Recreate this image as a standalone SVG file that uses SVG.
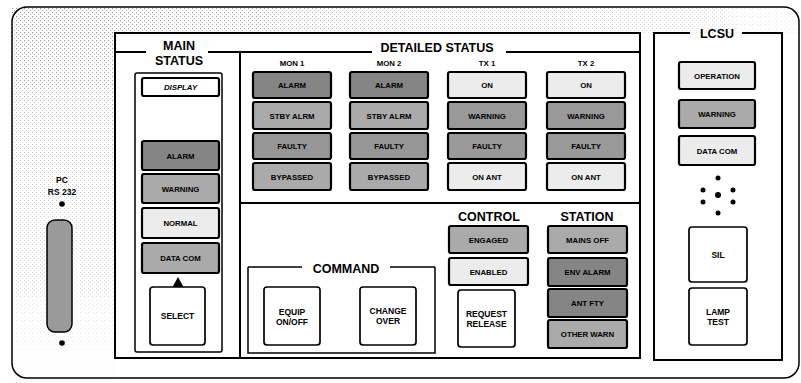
<svg xmlns="http://www.w3.org/2000/svg" width="801" height="383" viewBox="0 0 801 383">
  <defs>
    <!-- halftone stipple used on the panel background -->
    <pattern id="stipple" width="4" height="4" patternUnits="userSpaceOnUse">
      <rect x="0" y="0" width="1" height="1" fill="#000"/>
      <rect x="2" y="2" width="1" height="1" fill="#000" opacity="0.7"/>
    </pattern>
    <linearGradient id="fadeDown" x1="0" y1="0" x2="0" y2="1">
      <stop offset="0" stop-color="#fff" stop-opacity="0.45"/>
      <stop offset="0.4" stop-color="#fff" stop-opacity="0.25"/>
      <stop offset="1" stop-color="#fff" stop-opacity="0.04"/>
    </linearGradient>
    <linearGradient id="fadeRight" x1="0" y1="0" x2="1" y2="0">
      <stop offset="0" stop-color="#fff" stop-opacity="0.4"/>
      <stop offset="0.7" stop-color="#fff" stop-opacity="0.22"/>
      <stop offset="1" stop-color="#fff" stop-opacity="0.06"/>
    </linearGradient>
    <mask id="leftMask"><rect x="12" y="7" width="103" height="371" fill="url(#fadeDown)"/></mask>
    <mask id="topMask"><rect x="115" y="7" width="685" height="26" fill="url(#fadeRight)"/></mask>
    <style>
      .frame { fill: none; stroke: #000; stroke-width: 2; }
      .thin { fill: none; stroke: #000; stroke-width: 1.5; }
      .lamp { stroke: #000; stroke-width: 2.2; }
      .dark { fill: #858585; }
      .mid { fill: #aaaaaa; }
      .light { fill: #ececec; }
      .white { fill: #ffffff; }
      .btn { fill: #fff; stroke: #000; stroke-width: 1.7; }
      .lt { font-family: "Liberation Sans", Arial, sans-serif; font-weight: bold; font-size: 7.8px; text-anchor: middle; fill: #000; }
      .hd { font-family: "Liberation Sans", Arial, sans-serif; font-weight: bold; font-size: 12.5px; text-anchor: middle; fill: #000; }
      .sub { font-family: "Liberation Sans", Arial, sans-serif; font-weight: bold; font-size: 7.8px; text-anchor: middle; fill: #000; }
      .bt { font-family: "Liberation Sans", Arial, sans-serif; font-weight: bold; font-size: 8.5px; text-anchor: middle; fill: #000; }
    </style>
  </defs>

  <rect x="0" y="0" width="801" height="383" fill="#fff"/>

  <!-- outer cabinet panel -->
  <g id="panel">
    <rect x="12" y="7" width="787" height="371" rx="15" fill="#fff"/>
    <rect x="12" y="7" width="103" height="371" fill="url(#stipple)" mask="url(#leftMask)"/>
    <rect x="115" y="7" width="685" height="26" fill="url(#stipple)" mask="url(#topMask)"/>
    <rect x="12" y="7" width="787" height="371" rx="15" fill="none" stroke="#000" stroke-width="1.5"/>
  </g>

  <!-- PC serial port -->
  <g id="pc-port">
    <text class="bt" x="62" y="183" font-size="8">PC</text>
    <text class="bt" x="62" y="195" font-size="8">RS 232</text>
    <circle cx="62" cy="204" r="2.8" fill="#000"/>
    <rect x="47" y="220" width="25" height="112" rx="8" fill="#9a9a9a" stroke="#000" stroke-width="1.5"/>
    <circle cx="62" cy="343" r="2.8" fill="#000"/>
  </g>

  <!-- main frame: main status + detailed status -->
  <g id="main-frame">
    <rect class="frame" x="115" y="33" width="525" height="325"/>
    <line class="frame" x1="115" y1="52" x2="146" y2="52"/>
    <line class="frame" x1="208" y1="52" x2="372" y2="52"/>
    <line class="frame" x1="506" y1="52" x2="640" y2="52"/>
    <line class="frame" x1="240" y1="52" x2="240" y2="358"/>
    <line class="frame" x1="240" y1="203" x2="640" y2="203"/>
    <text class="hd" x="179" y="50">MAIN</text>
    <text class="hd" x="179" y="65">STATUS</text>
    <text class="hd" x="437" y="52" font-size="13.5">DETAILED STATUS</text>
  </g>

  <!-- main status column -->
  <g id="main-status">
    <rect class="thin" x="135" y="73" width="87" height="279" rx="2"/>
    <rect class="lamp white" x="142" y="78" width="77" height="18" rx="2"/>
    <text class="lt" x="180.5" y="90" font-style="italic">DISPLAY</text>
    <rect class="lamp dark" x="142" y="141" width="77" height="29" rx="2"/>
    <text class="lt" x="180.5" y="158.5">ALARM</text>
    <rect class="lamp mid" x="142" y="174" width="77" height="29" rx="2"/>
    <text class="lt" x="180.5" y="191.5">WARNING</text>
    <rect class="lamp light" x="142" y="208" width="77" height="30" rx="2"/>
    <text class="lt" x="180.5" y="226">NORMAL</text>
    <rect class="lamp mid" x="142" y="243" width="77" height="30" rx="2"/>
    <text class="lt" x="180.5" y="261">DATA COM</text>
    <polygon points="178,277 172.5,287 183.5,287" fill="#000"/>
    <rect class="btn" x="150" y="287" width="55" height="58" rx="3"/>
    <text class="bt" x="177.5" y="319" font-size="9">SELECT</text>
  </g>

  <!-- MON 1 -->
  <g id="mon1">
    <text class="sub" x="292" y="66">MON 1</text>
    <rect class="lamp dark" x="253" y="72" width="78" height="26" rx="2"/>
    <text class="lt" x="292" y="88">ALARM</text>
    <rect class="lamp mid" x="253" y="102" width="78" height="27" rx="2"/>
    <text class="lt" x="292" y="118.5">STBY ALRM</text>
    <rect class="lamp dark" x="253" y="133" width="78" height="26" rx="2" style="fill:#969696"/>
    <text class="lt" x="292" y="149">FAULTY</text>
    <rect class="lamp mid" x="253" y="163" width="78" height="27" rx="2"/>
    <text class="lt" x="292" y="179.5">BYPASSED</text>
  </g>

  <!-- MON 2 -->
  <g id="mon2">
    <text class="sub" x="389" y="66">MON 2</text>
    <rect class="lamp dark" x="350" y="72" width="78" height="26" rx="2"/>
    <text class="lt" x="389" y="88">ALARM</text>
    <rect class="lamp mid" x="350" y="102" width="78" height="27" rx="2"/>
    <text class="lt" x="389" y="118.5">STBY ALRM</text>
    <rect class="lamp dark" x="350" y="133" width="78" height="26" rx="2" style="fill:#969696"/>
    <text class="lt" x="389" y="149">FAULTY</text>
    <rect class="lamp mid" x="350" y="163" width="78" height="27" rx="2"/>
    <text class="lt" x="389" y="179.5">BYPASSED</text>
  </g>

  <!-- TX 1 -->
  <g id="tx1">
    <text class="sub" x="487" y="66">TX 1</text>
    <rect class="lamp light" x="448" y="72" width="78" height="26" rx="2"/>
    <text class="lt" x="487" y="88">ON</text>
    <rect class="lamp dark" x="448" y="102" width="78" height="27" rx="2" style="fill:#999"/>
    <text class="lt" x="487" y="118.5">WARNING</text>
    <rect class="lamp dark" x="448" y="133" width="78" height="26" rx="2" style="fill:#999"/>
    <text class="lt" x="487" y="149">FAULTY</text>
    <rect class="lamp light" x="448" y="163" width="78" height="27" rx="2"/>
    <text class="lt" x="487" y="179.5">ON ANT</text>
  </g>

  <!-- TX 2 -->
  <g id="tx2">
    <text class="sub" x="586" y="66">TX 2</text>
    <rect class="lamp light" x="547" y="72" width="78" height="26" rx="2"/>
    <text class="lt" x="586" y="88">ON</text>
    <rect class="lamp dark" x="547" y="102" width="78" height="27" rx="2" style="fill:#999"/>
    <text class="lt" x="586" y="118.5">WARNING</text>
    <rect class="lamp dark" x="547" y="133" width="78" height="26" rx="2" style="fill:#999"/>
    <text class="lt" x="586" y="149">FAULTY</text>
    <rect class="lamp light" x="547" y="163" width="78" height="27" rx="2"/>
    <text class="lt" x="586" y="179.5">ON ANT</text>
  </g>

  <!-- command group -->
  <g id="command">
    <line class="thin" x1="248" y1="267" x2="302" y2="267"/>
    <line class="thin" x1="390" y1="267" x2="435" y2="267"/>
    <polyline class="thin" points="248,267 248,353 435,353 435,267"/>
    <text class="hd" x="346" y="273">COMMAND</text>
    <rect class="btn" x="264" y="287" width="56" height="58" rx="3"/>
    <text class="bt" x="292" y="315">EQUIP</text>
    <text class="bt" x="292" y="325">ON/OFF</text>
    <rect class="btn" x="360" y="287" width="56" height="58" rx="3"/>
    <text class="bt" x="388" y="314">CHANGE</text>
    <text class="bt" x="388" y="324">OVER</text>
  </g>

  <!-- control -->
  <g id="control">
    <text class="hd" x="489" y="221">CONTROL</text>
    <rect class="lamp mid" x="449" y="226" width="79" height="27" rx="2"/>
    <text class="lt" x="488.5" y="242.5">ENGAGED</text>
    <rect class="lamp light" x="449" y="258" width="79" height="27" rx="2"/>
    <text class="lt" x="488.5" y="274.5">ENABLED</text>
    <rect class="btn" x="458" y="290" width="57" height="57" rx="3"/>
    <text class="bt" x="486.5" y="317">REQUEST</text>
    <text class="bt" x="486.5" y="327">RELEASE</text>
  </g>

  <!-- station -->
  <g id="station">
    <text class="hd" x="587" y="221">STATION</text>
    <rect class="lamp mid" x="548" y="226" width="79" height="27" rx="2"/>
    <text class="lt" x="587.5" y="242.5">MAINS OFF</text>
    <rect class="lamp dark" x="548" y="258" width="79" height="28" rx="2"/>
    <text class="lt" x="587.5" y="275">ENV ALARM</text>
    <rect class="lamp dark" x="548" y="289" width="79" height="28" rx="2"/>
    <text class="lt" x="587.5" y="306">ANT FTY</text>
    <rect class="lamp mid" x="548" y="320" width="79" height="28" rx="2"/>
    <text class="lt" x="587.5" y="337">OTHER WARN</text>
  </g>

  <!-- LCSU -->
  <g id="lcsu">
    <polyline class="frame" points="690,33 654,33 654,360 782,360 782,33 742,33"/>
    <text class="hd" x="717" y="38">LCSU</text>
    <rect class="lamp light" x="679" y="62" width="76" height="27" rx="2"/>
    <text class="lt" x="717" y="78.5">OPERATION</text>
    <rect class="lamp mid" x="679" y="100" width="76" height="28" rx="2"/>
    <text class="lt" x="717" y="117">WARNING</text>
    <rect class="lamp light" x="679" y="136" width="76" height="29" rx="2"/>
    <text class="lt" x="717" y="153.5">DATA COM</text>
    <g fill="#000">
      <circle cx="718" cy="178" r="2.5"/>
      <circle cx="703" cy="190" r="2.5"/>
      <circle cx="733" cy="190" r="2.5"/>
      <circle cx="718" cy="195" r="3"/>
      <circle cx="703" cy="202" r="2.5"/>
      <circle cx="733" cy="202" r="2.5"/>
      <circle cx="718" cy="213" r="2.5"/>
    </g>
    <rect class="btn" x="689" y="227" width="58" height="55" rx="3"/>
    <text class="bt" x="718" y="258">SIL</text>
    <rect class="btn" x="689" y="288" width="58" height="57" rx="3"/>
    <text class="bt" x="718" y="315">LAMP</text>
    <text class="bt" x="718" y="325">TEST</text>
  </g>
</svg>
